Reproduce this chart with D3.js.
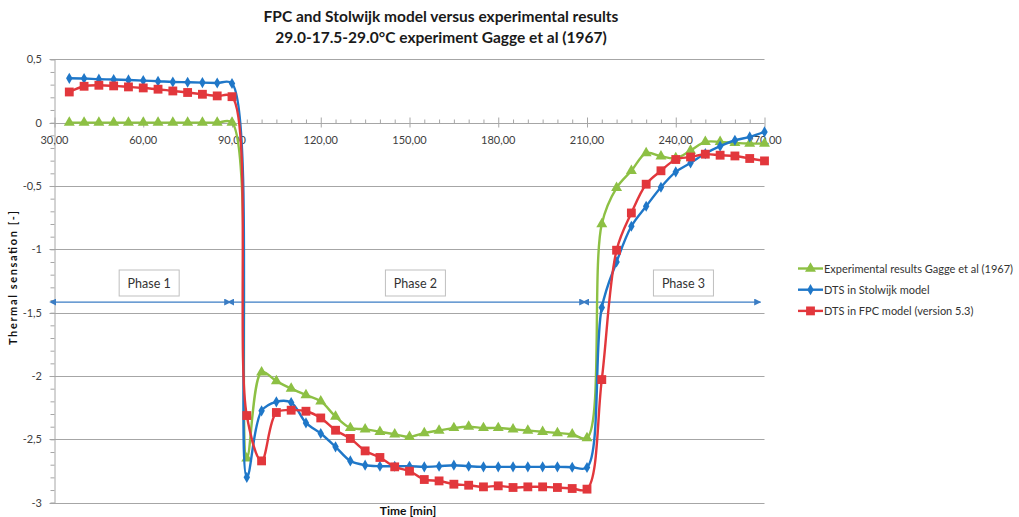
<!DOCTYPE html>
<html>
<head>
<meta charset="utf-8">
<script src="https://cdn.jsdelivr.net/npm/d3@7"></script>
<style>
  body { margin: 0; background: #fff; }
  text { font-family: Lato, "Liberation Sans", sans-serif; }
</style>
</head>
<body>
<div id="chart"></div>
<script>
// data (minutes, thermal sensation)
const times = [35, 40, 45, 50, 55, 60, 65, 70, 75, 80, 85, 90,
  95, 100, 105, 110, 115, 120, 125, 130, 135, 140, 145, 150,
  155, 160, 165, 170, 175, 180, 185, 190, 195, 200, 205, 210,
  215, 220, 225, 230, 235, 240, 245, 250, 255, 260, 265, 270];

const experimental = [0, 0, 0, 0, 0, 0, 0, 0, 0, 0, 0, 0,
  -2.65, -1.97, -2.04, -2.10, -2.15, -2.20, -2.32, -2.41, -2.42, -2.44, -2.46, -2.48,
  -2.45, -2.43, -2.41, -2.40, -2.41, -2.41, -2.42, -2.43, -2.44, -2.45, -2.46, -2.49,
  -0.80, -0.515, -0.38, -0.24, -0.265, -0.28, -0.22, -0.152, -0.152, -0.16, -0.165, -0.165];

const stolwijk = [0.35, 0.348, 0.343, 0.34, 0.337, 0.332, 0.327, 0.321, 0.319, 0.316, 0.313, 0.309,
  -2.80, -2.275, -2.204, -2.209, -2.37, -2.454, -2.559, -2.67, -2.704, -2.712, -2.712, -2.712,
  -2.717, -2.712, -2.704, -2.712, -2.717, -2.717, -2.717, -2.717, -2.717, -2.717, -2.72, -2.722,
  -1.46, -1.10, -0.818, -0.66, -0.51, -0.389, -0.318, -0.244, -0.186, -0.139, -0.113, -0.073];

const fpc = [0.242, 0.287, 0.295, 0.29, 0.282, 0.274, 0.264, 0.25, 0.238, 0.224, 0.211, 0.205,
  -2.312, -2.67, -2.288, -2.27, -2.278, -2.331, -2.428, -2.493, -2.591, -2.643, -2.717, -2.751,
  -2.817, -2.828, -2.854, -2.862, -2.875, -2.867, -2.88, -2.875, -2.875, -2.88, -2.888, -2.893,
  -2.028, -1.007, -0.713, -0.486, -0.38, -0.291, -0.271, -0.249, -0.257, -0.263, -0.283, -0.302];

const seriesNames = ["Experimental results Gagge et al (1967)", "DTS in Stolwijk model", "DTS in FPC model (version 5.3)"];
const seriesColors = ["#8dc044", "#1f77c8", "#e2373c"];

const xTicks = [30, 60, 90, 120, 150, 180, 210, 240, 270];
const yTicks = [0.5, 0, -0.5, -1, -1.5, -2, -2.5, -3];

const phaseLabels = ["Phase 1", "Phase 2", "Phase 3"];
const phaseStart = [30, 90, 210];
const phaseEnd = [90, 210, 270];
const phaseLabelAt = [62, 152, 242.6];

const WIDTH = 1019;
const HEIGHT = 517;

const svg = d3.select("#chart")
  .append("svg")
  .attr("width", WIDTH)
  .attr("height", HEIGHT)
  .style("background-color", "#fff");

const xScale = d3.scaleLinear().domain([30, 270]).range([54.5, 764.5]);
const yScale = d3.scaleLinear().domain([-3, 0.5]).range([502.7, 59.3]);

// titles
svg.append("text")
  .attr("x", 441).attr("y", 22)
  .attr("text-anchor", "middle")
  .attr("font-size", 15.5).attr("font-weight", "bold")
  .attr("fill", "#1a1a1a")
  .text("FPC and Stolwijk model versus experimental results");

svg.append("text")
  .attr("x", 441).attr("y", 43)
  .attr("text-anchor", "middle")
  .attr("font-size", 15.5).attr("font-weight", "bold")
  .attr("fill", "#1a1a1a")
  .text("29.0-17.5-29.0°C  experiment Gagge et al (1967)");

// horizontal gridlines
svg.append("g")
  .selectAll("line")
  .data(yTicks)
  .enter()
  .append("line")
  .attr("x1", xScale(30) - 5)
  .attr("x2", xScale(270))
  .attr("y1", (d) => Math.round(yScale(d)) + 0.5)
  .attr("y2", (d) => Math.round(yScale(d)) + 0.5)
  .attr("stroke", "#a6a6a6")
  .attr("stroke-width", 1);

// y axis
const yAxis = svg.append("g")
  .attr("transform", `translate(${xScale(30)}, 0)`)
  .call(d3.axisLeft(yScale)
    .tickValues(d3.range(-3, 0.51, 0.1))
    .tickSize(4)
    .tickFormat(() => ""));
yAxis.selectAll("path, line").attr("stroke", "#a6a6a6");

svg.append("g")
  .selectAll("text")
  .data(yTicks)
  .enter()
  .append("text")
  .attr("x", 42)
  .attr("y", (d) => yScale(d) + 4)
  .attr("text-anchor", "end")
  .attr("font-size", 11)
  .attr("fill", "#404040")
  .text((d) => String(d).replace(".", ","));

// x axis sitting on zero
const xAxis = svg.append("g")
  .attr("transform", `translate(0, ${Math.round(yScale(0)) + 0.5})`)
  .call(d3.axisTop(xScale)
    .tickValues(d3.range(30, 271, 5))
    .tickSize(4)
    .tickFormat(() => ""));
xAxis.selectAll("path, line").attr("stroke", "#a6a6a6");
xAxis.select(".domain").remove();
xAxis.selectAll(".tick line")
  .filter((d) => d % 30 === 0)
  .attr("y1", 4).attr("y2", -6);

svg.append("g")
  .selectAll("text")
  .data(xTicks)
  .enter()
  .append("text")
  .attr("x", (d) => xScale(d))
  .attr("y", yScale(0) + 21)
  .attr("text-anchor", "middle")
  .attr("font-size", 11)
  .attr("fill", "#404040")
  .text((d) => d.toFixed(2).replace(".", ","));

// axis titles
svg.append("text")
  .attr("transform", `translate(17, 278) rotate(-90)`)
  .attr("text-anchor", "middle")
  .attr("font-size", 11).attr("font-weight", "bold")
  .attr("fill", "#111")
  .attr("textLength", 134)
  .attr("lengthAdjust", "spacing")
  .text("Thermal  sensation [-]");

svg.append("text")
  .attr("x", 408).attr("y", 515)
  .attr("text-anchor", "middle")
  .attr("font-size", 12).attr("font-weight", "bold")
  .attr("fill", "#111")
  .text("Time [min]");

// phase arrows and boxes
const arrowColor = "#3b7dc4";
const defs = svg.append("defs");
["start", "end"].forEach((k) => {
  defs.append("marker")
    .attr("id", "arrow-" + k)
    .attr("viewBox", "0 0 10 10")
    .attr("refX", k === "end" ? 9 : 1).attr("refY", 5)
    .attr("markerWidth", 7).attr("markerHeight", 7)
    .attr("markerUnits", "userSpaceOnUse")
    .attr("orient", "auto-start-reverse")
    .append("path")
    .attr("d", "M0,0 L10,5 L0,10 z")
    .attr("fill", arrowColor);
});

const phaseY = yScale(-1.416);
const phases = svg.append("g");
phaseLabels.forEach((label, i) => {
  phases.append("line")
    .attr("x1", xScale(phaseStart[i]) + (i === 0 ? 1 : 1.5))
    .attr("x2", xScale(phaseEnd[i]) - (i === 2 ? 4 : 1.5))
    .attr("y1", phaseY).attr("y2", phaseY)
    .attr("stroke", arrowColor)
    .attr("stroke-width", 1.2)
    .attr("marker-start", "url(#arrow-start)")
    .attr("marker-end", "url(#arrow-end)");
  const cx = xScale(phaseLabelAt[i]);
  phases.append("rect")
    .attr("x", cx - 30).attr("y", 270)
    .attr("width", 60).attr("height", 26)
    .attr("fill", "#fff")
    .attr("stroke", "#bfbfbf");
  phases.append("text")
    .attr("x", cx).attr("y", 287.5)
    .attr("text-anchor", "middle")
    .attr("font-size", 12.5)
    .attr("fill", "#333")
    .text(label);
});

// series
const symbols = [d3.symbolTriangle, d3.symbolDiamond, d3.symbolSquare];
const symbolSizes = [52, 36, 78];
const values = [experimental, stolwijk, fpc];

const line = d3.line()
  .x((d) => xScale(d.t))
  .y((d) => yScale(d.v))
  .curve(d3.curveCatmullRom.alpha(0.5));

values.forEach((vals, i) => {
  const pts = times.map((t, j) => ({ t: t, v: vals[j] }));
  const g = svg.append("g");
  g.append("path")
    .datum(pts)
    .attr("d", line)
    .attr("fill", "none")
    .attr("stroke", seriesColors[i])
    .attr("stroke-width", 2.4);
  g.selectAll("path.mark")
    .data(pts)
    .enter()
    .append("path")
    .attr("class", "mark")
    .attr("transform", (d) => `translate(${xScale(d.t)}, ${yScale(d.v)})`)
    .attr("d", d3.symbol().type(symbols[i]).size(symbolSizes[i]))
    .attr("fill", seriesColors[i]);
});

// legend
const legend = svg.append("g");
seriesNames.forEach((name, i) => {
  const ly = 268.5 + i * 21.2;
  legend.append("line")
    .attr("x1", 798).attr("x2", 823)
    .attr("y1", ly).attr("y2", ly)
    .attr("stroke", seriesColors[i])
    .attr("stroke-width", 2.4);
  legend.append("path")
    .attr("transform", `translate(810.5, ${ly})`)
    .attr("d", d3.symbol().type(symbols[i]).size(symbolSizes[i]))
    .attr("fill", seriesColors[i]);
  legend.append("text")
    .attr("x", 824).attr("y", ly + 4)
    .attr("font-size", 11)
    .attr("fill", "#333")
    .text(name);
});
</script>
</body>
</html>
